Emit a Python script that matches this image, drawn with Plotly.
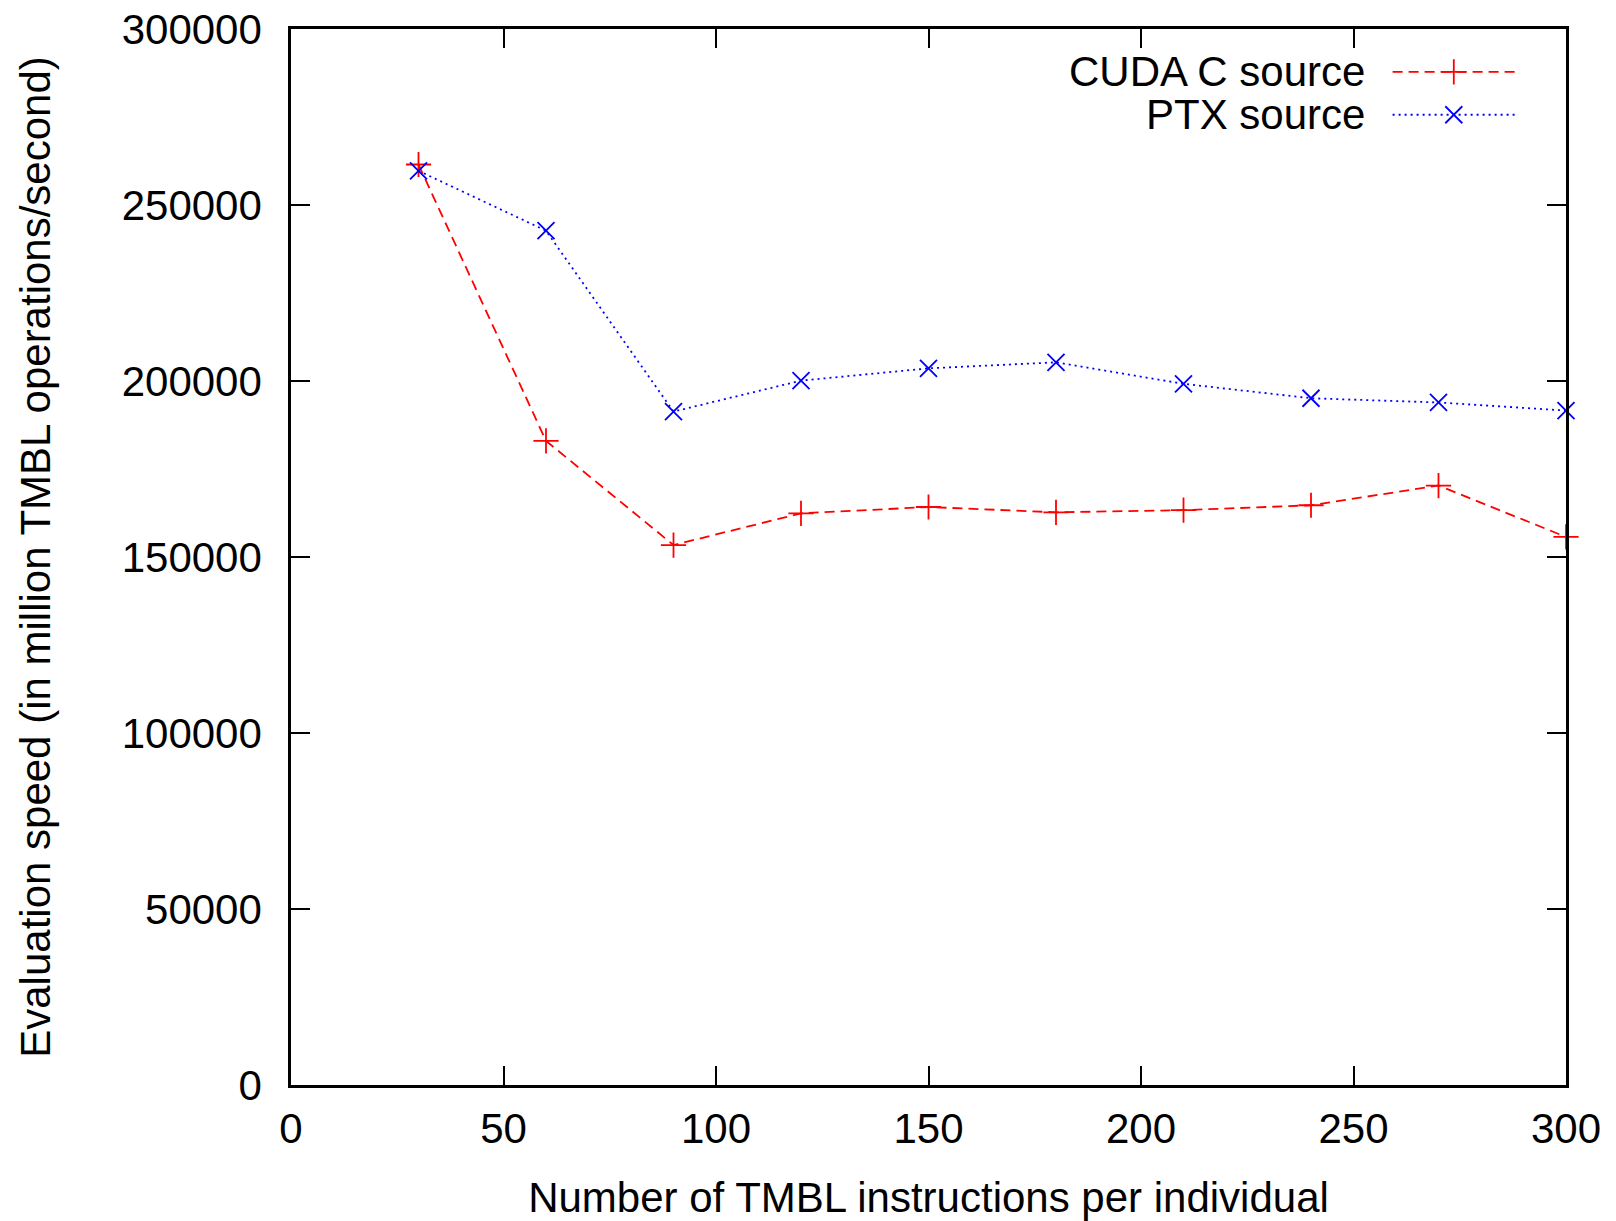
import plotly.graph_objects as go

# ---- data ----
instructions = [30, 60, 90, 120, 150, 180, 210, 240, 270, 300]
cuda_c_speed = [261500, 183000, 153400, 162400, 164200, 162700, 163300, 164700, 170300, 155700]
ptx_speed = [259700, 242700, 191300, 200100, 203600, 205300, 199200, 195100, 193900, 191600]
series_names = ["CUDA C source", "PTX source"]
x_title = "Number of TMBL instructions per individual"
y_title = "Evaluation speed (in million TMBL operations/second)"

FONT = "Liberation Sans, Arial, Helvetica, sans-serif"
RED = "#ff0000"
BLUE = "#0000ff"

fig = go.Figure()

fig.add_trace(go.Scatter(
    x=instructions, y=cuda_c_speed, mode="lines+markers", name=series_names[0],
    line=dict(color=RED, width=1.8, dash="10px,6px"),
    marker=dict(symbol="cross-thin", size=18, line=dict(color=RED, width=1.8)),
    cliponaxis=False, showlegend=False,
))
fig.add_trace(go.Scatter(
    x=instructions, y=ptx_speed, mode="lines+markers", name=series_names[1],
    line=dict(color=BLUE, width=1.8, dash="2px,4px"),
    marker=dict(symbol="x-thin", size=17, line=dict(color=BLUE, width=1.8)),
    cliponaxis=False, showlegend=False,
))

# ---- legend (gnuplot style: text left, sample right) on an overlay axis ----
leg_x0, leg_xm, leg_x1 = 0.864, 0.912, 0.960
leg_rows = [0.9594, 0.9188]
styles = [
    (RED, "10px,6px", "cross-thin", 18),
    (BLUE, "2px,4px", "x-thin", 17),
]
for name, yrow, (col, dash, sym, size) in zip(series_names, leg_rows, styles):
    fig.add_trace(go.Scatter(
        x=[leg_x0, leg_x1], y=[yrow, yrow], mode="lines",
        line=dict(color=col, width=1.8, dash=dash),
        xaxis="x2", yaxis="y2", showlegend=False, hoverinfo="skip",
    ))
    fig.add_trace(go.Scatter(
        x=[leg_xm], y=[yrow], mode="markers",
        marker=dict(symbol=sym, size=size, line=dict(color=col, width=1.8)),
        xaxis="x2", yaxis="y2", showlegend=False, hoverinfo="skip",
    ))
    fig.add_annotation(
        x=0.844, y=yrow, xref="paper", yref="paper", text=name,
        showarrow=False, xanchor="right", yanchor="middle",
        font=dict(family=FONT, size=42, color="black"),
    )

axis_common = dict(
    showgrid=False, zeroline=False, showline=True, linecolor="black", linewidth=2.5,
    mirror="ticks", ticks="inside", ticklen=19, tickwidth=2, tickcolor="black",
    tickfont=dict(family=FONT, size=42, color="black"),
    ticklabeloverflow="allow",
)

fig.update_layout(
    width=1616, height=1221,
    margin=dict(l=291, r=50, t=29, b=136, autoexpand=False),
    paper_bgcolor="white", plot_bgcolor="white",
    font=dict(family=FONT, size=42, color="black"),
    xaxis=dict(
        range=[0, 300], tick0=0, dtick=50, **axis_common,
        title=dict(text=x_title, font=dict(family=FONT, size=42, color="black"), standoff=33),
        ticklabelstandoff=5,
    ),
    yaxis=dict(
        range=[0, 300000], tick0=0, dtick=50000, tickformat="d", **axis_common,
        title=dict(text=y_title, font=dict(family=FONT, size=42, color="black"), standoff=58),
        ticklabelstandoff=18,
    ),
    xaxis2=dict(range=[0, 1], overlaying="x", visible=False, fixedrange=True),
    yaxis2=dict(range=[0, 1], overlaying="y", visible=False, fixedrange=True),
)

fig.write_html(
    "out.html",
    config={"displayModeBar": False},
    post_script="document.body.style.margin='0px';",
)
